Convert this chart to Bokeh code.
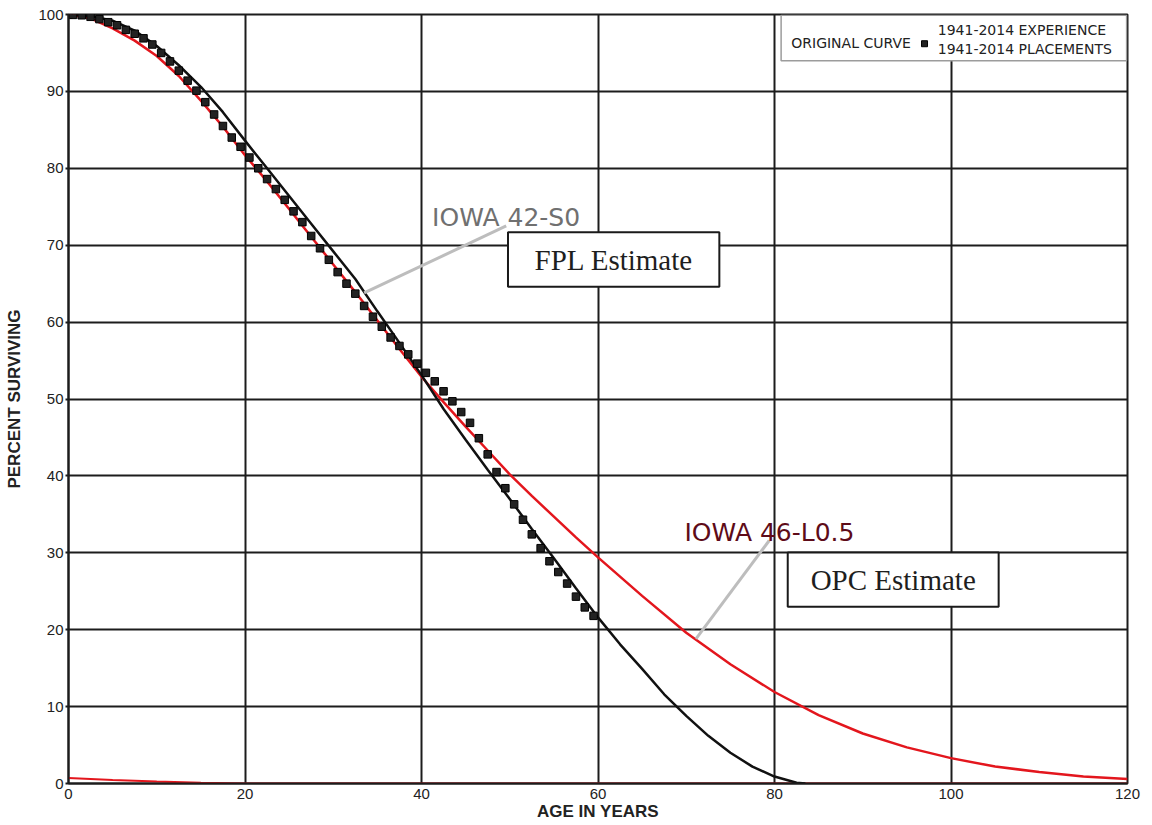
from bokeh.plotting import figure
from bokeh.models import Range1d, FixedTicker, ColumnDataSource
from bokeh.embed import file_html
from bokeh.resources import INLINE
from bokeh.core.properties import value

# ---------------- data ----------------
# 1941-2014 experience, original observed survivor curve
exp_age = [0, 0.5, 1.5, 2.5, 3.5, 4.5, 5.5, 6.5, 7.5, 8.5, 9.5,
           10.5, 11.5, 12.5, 13.5, 14.5, 15.5, 16.5, 17.5, 18.5, 19.5,
           20.5, 21.5, 22.5, 23.5, 24.5, 25.5, 26.5, 27.5, 28.5, 29.5,
           30.5, 31.5, 32.5, 33.5, 34.5, 35.5, 36.5, 37.5, 38.5, 39.5,
           40.5, 41.5, 42.5, 43.5, 44.5, 45.5, 46.5, 47.5, 48.5, 49.5,
           50.5, 51.5, 52.5, 53.5, 54.5, 55.5, 56.5, 57.5, 58.5, 59.5]
exp_pct = [100.0, 99.95, 99.9, 99.7, 99.4, 99.0, 98.6, 98.0, 97.5, 96.9, 96.1,
           95.0, 93.9, 92.7, 91.4, 90.1, 88.6, 87.0, 85.5, 84.0, 82.8,
           81.4, 80.0, 78.6, 77.3, 75.9, 74.4, 73.0, 71.2, 69.6, 68.1,
           66.5, 65.0, 63.7, 62.1, 60.7, 59.4, 58.0, 56.9, 55.8, 54.6,
           53.4, 52.3, 51.0, 49.7, 48.3, 46.9, 44.9, 42.8, 40.5, 38.4,
           36.3, 34.3, 32.4, 30.6, 28.9, 27.5, 26.0, 24.3, 22.9, 21.8]

# Iowa 42-S0 (FPL estimate), black
s0_age = [0, 2.5, 5, 7.5, 10, 12.5, 15, 17.5, 20, 22.5, 25, 27.5, 30, 32.5,
          35, 37.5, 40, 42.5, 45, 47.5, 50, 52.5, 55, 57.5, 60, 62.5, 65,
          67.5, 70, 72.5, 75, 77.5, 80, 82.5, 83.5]
s0_pct = [100.0, 99.8, 99.2, 97.9, 95.9, 93.4, 90.6, 87.3, 83.6, 80.0, 76.4,
          72.8, 69.2, 65.6, 61.4, 57.3, 53.1, 48.7, 44.7, 40.8, 37.0, 33.1,
          29.3, 25.4, 21.6, 18.1, 14.9, 11.6, 8.8, 6.2, 4.0, 2.2, 0.9, 0.1, 0.0]

# Iowa 46-L0.5 (OPC estimate), red
l05_age = [0, 2.5, 5, 7.5, 10, 12.5, 15, 17.5, 20, 22.5, 25, 27.5, 30, 32.5,
           35, 37.5, 40, 42.5, 45, 47.5, 50, 52.5, 55, 57.5, 60, 65, 70, 75,
           80, 85, 90, 95, 100, 105, 110, 115, 120]
l05_pct = [100.0, 99.5, 98.2, 96.6, 94.6, 92.0, 88.8, 85.4, 81.7, 78.3, 74.7,
           71.1, 67.5, 63.9, 60.2, 56.5, 52.9, 49.6, 46.4, 43.3, 40.2, 37.4,
           34.7, 32.0, 29.4, 24.4, 19.6, 15.5, 11.9, 8.9, 6.5, 4.7, 3.3, 2.2,
           1.5, 0.9, 0.6]

# red trace along the bottom
base_age = [0, 5, 10, 15, 20, 120]
base_pct = [0.7, 0.45, 0.25, 0.1, 0.0, 0.0]

x_ticks = [0, 20, 40, 60, 80, 100, 120]
y_ticks = [0, 10, 20, 30, 40, 50, 60, 70, 80, 90, 100]

legend_left = "ORIGINAL CURVE"
legend_lines = ["1941-2014 EXPERIENCE", "1941-2014 PLACEMENTS"]
curve_labels = ["IOWA 42-S0", "IOWA 46-L0.5"]
box_labels = ["FPL Estimate", "OPC Estimate"]

# ---------------- figure ----------------
GRID = "#1c1c1c"
RED = "#e3161d"

p = figure(width=1152, height=825,
           x_range=Range1d(0, 120), y_range=Range1d(0, 100),
           output_backend="svg", toolbar_location=None,
           min_border_left=68, min_border_right=25,
           min_border_top=14, min_border_bottom=42,
           background_fill_color="white", border_fill_color="white")

p.outline_line_color = GRID
p.outline_line_width = 2

p.xaxis.ticker = FixedTicker(ticks=x_ticks)
p.yaxis.ticker = FixedTicker(ticks=y_ticks)
p.xgrid.ticker = FixedTicker(ticks=x_ticks)
p.ygrid.ticker = FixedTicker(ticks=y_ticks)
for g in (p.xgrid, p.ygrid):
    g.grid_line_color = GRID
    g.grid_line_width = 2
    g.grid_line_alpha = 1.0

for ax in (p.xaxis, p.yaxis):
    ax.axis_line_color = GRID
    ax.axis_line_width = 2
    ax.minor_tick_line_color = None
    ax.major_tick_in = 0
    ax.major_label_text_font = "Liberation Sans"
    ax.major_label_text_font_size = "15px"
    ax.major_label_text_color = "#222222"
    ax.axis_label_text_font = "Liberation Sans"
    ax.axis_label_text_font_size = "17px"
    ax.axis_label_text_font_style = "bold"
    ax.axis_label_text_color = "#222222"

p.xaxis.axis_label = "AGE IN YEARS"
p.yaxis.axis_label = "PERCENT SURVIVING"
p.xaxis.major_tick_out = 0
p.xaxis.major_label_standoff = 5
p.xaxis.axis_label_standoff = 0
p.yaxis.major_tick_out = 3
p.yaxis.major_tick_line_color = GRID
p.yaxis.major_tick_line_width = 2
p.yaxis.major_label_standoff = 2
p.yaxis.axis_label_standoff = 11

# ---------------- curves ----------------
p.line(base_age, base_pct, line_color=RED, line_width=2)
p.line(l05_age, l05_pct, line_color=RED, line_width=2.5)
p.line(s0_age, s0_pct, line_color="#111111", line_width=2.5)

src = ColumnDataSource(dict(age=exp_age, pct=exp_pct))
p.scatter("age", "pct", source=src, marker="square", size=7.5,
          fill_color="#222222", line_color="#000000", line_width=1)

# ---------------- annotations ----------------
LEAD = "#bdbdbd"
# leader lines
p.line([49.6, 33.5], [72.5, 63.8], line_color=LEAD, line_width=3)
p.line([79.4, 71.1], [31.6, 18.8], line_color=LEAD, line_width=3)

# curve name labels
p.text(x=[41.2], y=[73.6], text=[curve_labels[0]], text_font=value("DejaVu Sans"),
       text_font_size="25px", text_color="#707070", text_baseline="alphabetic")
p.text(x=[69.8], y=[32.65], text=[curve_labels[1]], text_font=value("DejaVu Sans"),
       text_font_size="25px", text_color="#5e0b18", text_baseline="alphabetic")

# estimate boxes
p.quad(left=[49.8, 81.5], right=[73.75, 105.4], top=[71.7, 30.05], bottom=[64.6, 23.0],
       fill_color="white", line_color="#1a1a1a", line_width=2)
p.text(x=[61.8, 93.45], y=[68.1, 26.45], text=box_labels,
       text_font=value("Liberation Serif"), text_font_size="29px",
       text_color="#1e1e1e", text_align="center", text_baseline="middle")

# legend box
p.quad(left=[80.75], right=[119.9], top=[99.9], bottom=[94.0],
       fill_color="white", line_color="#9c9c9c", line_width=1.5)
p.text(x=[81.9], y=[96.35], text=[legend_left], text_font=value("DejaVu Sans"),
       text_font_size="14px", text_color="#222222", text_baseline="middle")
p.scatter(x=[97.0], y=[96.2], marker="square", size=6,
          fill_color="#222222", line_color="#000000")
p.text(x=[98.5, 98.5], y=[97.98, 95.5], text=legend_lines,
       text_font=value("DejaVu Sans"), text_font_size="14px",
       text_color="#222222", text_baseline="middle")

open("out.html", "w").write(file_html(p, INLINE))
